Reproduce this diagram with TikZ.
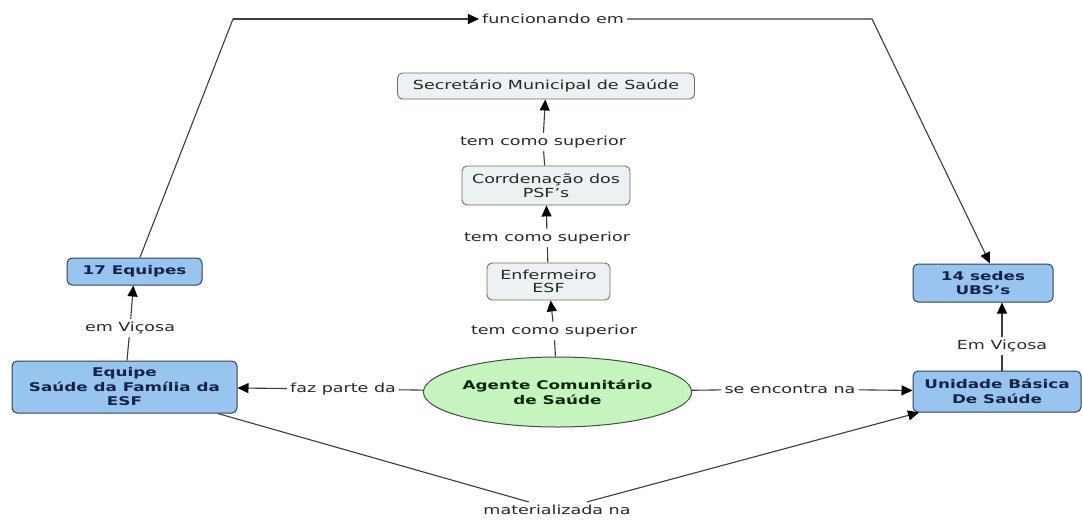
\documentclass[tikz,border=0pt]{standalone}
\usepackage{fontspec}
\setmainfont{DejaVu Sans}[FakeStretch=1.4]
\usetikzlibrary{arrows.meta,shapes.geometric}
\definecolor{bluefill}{RGB}{152,196,240}
\definecolor{blueborder}{RGB}{50,64,84}
\definecolor{bluetext}{RGB}{22,34,70}
\definecolor{greyfill}{RGB}{236,241,244}
\definecolor{greyborder}{RGB}{110,110,110}
\definecolor{greenfill}{RGB}{198,244,190}
\definecolor{greenborder}{RGB}{60,80,60}
\definecolor{greentext}{RGB}{10,40,10}
\definecolor{linkcol}{RGB}{60,60,60}
\definecolor{labeltext}{RGB}{40,40,40}
\begin{document}
\begin{tikzpicture}[x=1pt,y=-1pt,
  bluebox/.style={draw=blueborder, fill=bluefill, rounded corners=5pt, line width=1pt, text=bluetext,
    font=\fontsize{12}{14.5}\selectfont\bfseries, align=center, inner sep=0pt},
  greybox/.style={draw=greyborder, fill=greyfill, rounded corners=5pt, line width=0.9pt, text=black!85,
    font=\fontsize{12.5}{13.5}\selectfont, align=center, inner sep=0pt},
  agentnode/.style={ellipse, draw=greenborder, fill=greenfill, line width=1pt, minimum width=236pt,
    minimum height=70pt, inner sep=0pt, text=greentext, font=\fontsize{12}{15}\selectfont\bfseries, align=center},
  lbl/.style={font=\fontsize{12.5}{14}\selectfont, text=labeltext, inner sep=3pt},
  link/.style={draw=linkcol, line width=1.1pt},
  arr/.style={link, -{Triangle[length=11pt,width=10pt,color=black]}}
]
\useasboundingbox (0,0) rectangle (1083,519);

% concept nodes
\node[greybox, minimum width=297pt, minimum height=26pt] (sec) at (546,86) {Secretário Municipal de Saúde};
\node[greybox, minimum width=168pt, minimum height=39pt] (coord) at (546,185.5) {Corrdenação dos\\PSF's};
\node[greybox, minimum width=123pt, minimum height=37pt] (enf) at (548.5,281.5) {Enfermeiro\\ESF};
\node[agentnode] (agente) at (557.5,392) {Agente Comunitário\\de Saúde};
\node[bluebox, minimum width=135pt, minimum height=27pt] (equipes) at (134.5,271.5) {17 Equipes};
\node[bluebox, minimum width=225pt, minimum height=52pt] (equipe) at (124.5,387) {Equipe\\Saúde da Família da\\ESF};
\node[bluebox, minimum width=140pt, minimum height=38pt] (sedes) at (983,283) {14 sedes\\UBS's};
\node[bluebox, minimum width=168pt, minimum height=41pt] (unidade) at (997,391.5) {Unidade Básica\\De Saúde};

% linking phrases
\node[lbl] (l1) at (554,331) {tem como superior};
\node[lbl] (l2) at (547,238) {tem como superior};
\node[lbl] (l3) at (543,142) {tem como superior};
\node[lbl] (lv) at (130,328) {em Viçosa};
\node[lbl] (lV) at (1002,346) {Em Viçosa};
\node[lbl] (lfaz) at (343,389) {faz parte da};
\node[lbl] (lse) at (790,389) {se encontra na};
\node[lbl] (lfunc) at (553,19) {funcionando em};
\node[lbl] (lmat) at (557,510) {materializada na};

\coordinate (c1) at (233,19);
\coordinate (c2) at (872,19);

% connectors
\draw[link] (agente) -- (l1);
\draw[arr] (l1) -- (enf);
\draw[link] (enf) -- (l2);
\draw[arr] (l2) -- (coord);
\draw[link] (coord) -- (l3);
\draw[arr] (l3) -- (sec);
\draw[link] (equipe) -- (lv);
\draw[arr] (lv) -- (equipes);
\draw[link] (lV |- unidade.north) -- (lV);
\draw[arr] (lV) -- (lV |- sedes.south);
\draw[link] (agente) -- (lfaz);
\draw[arr] (lfaz) -- (equipe);
\draw[link] (agente) -- (lse);
\draw[arr] (lse) -- (unidade);
\draw[link] (equipes) -- (c1);
\draw[arr] (c1) -- (lfunc);
\draw[arr] (lfunc) -- (c2) -- ([xshift=7pt]sedes.north);
\draw[link] (equipe) -- (lmat);
\draw[arr] (lmat) -- (unidade);
\end{tikzpicture}
\end{document}
